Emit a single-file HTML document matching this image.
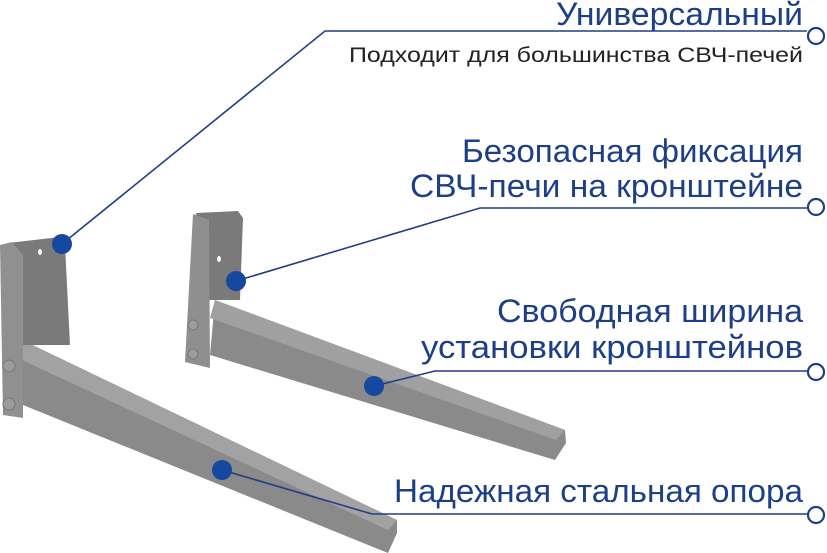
<!DOCTYPE html>
<html><head><meta charset="utf-8"><style>
body{margin:0;background:#fff;width:827px;height:553px;overflow:hidden}
svg{display:block}
.t{font-family:"Liberation Sans","Noto Sans CJK SC",sans-serif;fill:#1d3f88;text-anchor:start}
</style></head><body>
<svg width="827" height="553" viewBox="0 0 827 553">
<!-- right bracket -->
<g>
<polygon points="215,300 565,430 566,443 555,460 210,355" fill="#8a8a8a"/>
<polygon points="215,300 565,430 556,440 210,318" fill="#a0a0a0"/>
<polygon points="196,213 238,211 243,218 240,300 205,300" fill="#7a7a7a"/>
<polygon points="193,214 209,220 210,368 185,362" fill="#8f8f8f"/>
<circle cx="193" cy="325" r="5" fill="#9c9c9c" stroke="#777"/>
<circle cx="193" cy="354" r="5" fill="#9c9c9c" stroke="#777"/>
<ellipse cx="219" cy="259" rx="2" ry="3" fill="#fff"/>
</g>
<!-- left bracket -->
<g>
<polygon points="22,340 397,520 397,533 388,553 23,405" fill="#8a8a8a"/>
<polygon points="22,340 397,520 388,530 22,360" fill="#a2a2a2"/>
<polygon points="8,243 60,237 65,245 70,345 22,345" fill="#7a7a7a"/>
<polygon points="0,245 12,242 23,255 23,418 3,415" fill="#909090"/>
<circle cx="9" cy="366" r="6" fill="#9c9c9c" stroke="#777"/>
<circle cx="9" cy="404" r="6" fill="#9c9c9c" stroke="#777"/>
<ellipse cx="40" cy="252" rx="2" ry="3" fill="#fff"/>
</g>
<!-- connectors -->
<g stroke="#1f3f86" stroke-width="1.6" fill="none">
<polyline points="62,244 325,31 807,31"/>
<polyline points="236,281 480,208 807,208"/>
<polyline points="374,386 435,371 807,371"/>
<polyline points="222,470 372,514 807,514"/>
</g>
<g fill="#fff" stroke="#1f3f86" stroke-width="2.2">
<circle cx="816" cy="36" r="8"/>
<circle cx="816" cy="207" r="8"/>
<circle cx="816" cy="372" r="8"/>
<circle cx="816" cy="515" r="8"/>
</g>
<g fill="#1648a0">
<circle cx="62" cy="244" r="10"/>
<circle cx="236" cy="281" r="10"/>
<circle cx="374" cy="386" r="10"/>
<circle cx="222" cy="470" r="10"/>
</g>
<text class="t" x="556" y="25" font-size="32" textLength="247" lengthAdjust="spacingAndGlyphs">Универсальный</text>
<text class="t" x="349" y="62" font-size="21" textLength="454" lengthAdjust="spacingAndGlyphs" style="fill:#222">Подходит для большинства СВЧ-печей</text>
<text class="t" x="462" y="162" font-size="32" textLength="341" lengthAdjust="spacingAndGlyphs">Безопасная фиксация</text>
<text class="t" x="410" y="197" font-size="32" textLength="393" lengthAdjust="spacingAndGlyphs">СВЧ-печи на кронштейне</text>
<text class="t" x="497" y="322" font-size="32" textLength="306" lengthAdjust="spacingAndGlyphs">Свободная ширина</text>
<text class="t" x="421" y="358" font-size="32" textLength="382" lengthAdjust="spacingAndGlyphs">установки кронштейнов</text>
<text class="t" x="394" y="502" font-size="32" textLength="409" lengthAdjust="spacingAndGlyphs">Надежная стальная опора</text>
</svg>
</body></html>
